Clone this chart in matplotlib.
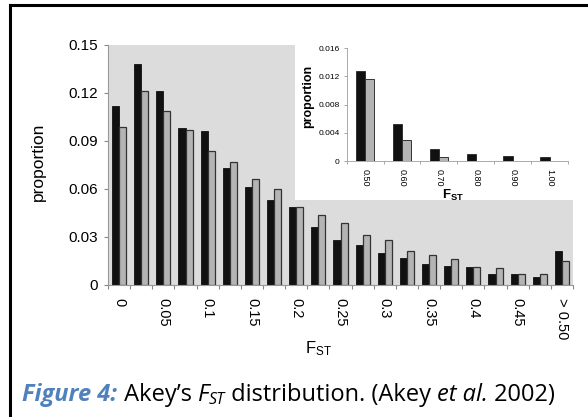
import matplotlib
matplotlib.use("Agg")
import matplotlib.pyplot as plt
from matplotlib.patches import Rectangle
from matplotlib.lines import Line2D
import numpy as np

plt.rcParams["font.family"] = ["Liberation Sans", "DejaVu Sans"]
plt.rcParams["mathtext.default"] = "regular"

# ---- data -------------------------------------------------------------
bin_labels = ["0", "", "0.05", "", "0.1", "", "0.15", "", "0.2", "", "0.25", "",
              "0.3", "", "0.35", "", "0.4", "", "0.45", "", "> 0.50"]
series_a = [0.112, 0.138, 0.121, 0.098, 0.096, 0.073, 0.061, 0.053, 0.049, 0.036,
            0.028, 0.025, 0.020, 0.017, 0.013, 0.012, 0.011, 0.007, 0.0068, 0.0048, 0.021]
series_b = [0.099, 0.121, 0.109, 0.097, 0.084, 0.077, 0.066, 0.060, 0.049, 0.044,
            0.039, 0.031, 0.028, 0.021, 0.019, 0.016, 0.0115, 0.0104, 0.0068, 0.0069, 0.015]
main_yticks = [0, 0.03, 0.06, 0.09, 0.12, 0.15]
main_ytick_labels = ["0", "0.03", "0.06", "0.09", "0.12", "0.15"]

tail_labels = ["0.50", "0.60", "0.70", "0.80", "0.90", "1.00"]
tail_a = [0.0128, 0.0052, 0.0017, 0.0010, 0.0007, 0.0006]
tail_b = [0.0117, 0.0030, 0.0005, 0.0, 0.0, 0.0]
tail_yticks = [0, 0.004, 0.008, 0.012, 0.016]
tail_ytick_labels = ["0", "0.004", "0.008", "0.012", "0.016"]

BLACK = "#111111"
GREY = "#b4b4b4"
EDGE = "#333333"
PANEL = "#dcdcdc"

W, H = 588, 417
fig = plt.figure(figsize=(W / 100, H / 100), dpi=100)
fig.patch.set_facecolor("white")


def frac(x0, y0, x1, y1):
    """Pixel box (top-left origin) -> figure fraction rect."""
    return [x0 / W, 1 - y1 / H, (x1 - x0) / W, (y1 - y0) / H]


# ---- main histogram ---------------------------------------------------
ax = fig.add_axes(frac(108, 45, 573, 285))
ax.set_facecolor(PANEL)
x = np.arange(len(series_a))
bw = 0.32
ax.bar(x - bw / 2, series_a, bw, color=BLACK, edgecolor=BLACK, linewidth=0.6)
ax.bar(x + bw / 2, series_b, bw, color=GREY, edgecolor=EDGE, linewidth=0.9)
ax.set_xlim(-0.5, len(x) - 0.5)
ax.set_ylim(0, 0.15)
ax.set_yticks(main_yticks)
ax.set_yticklabels(main_ytick_labels, fontsize=11)
ax.set_xticks(x)
ax.set_xticklabels(bin_labels, rotation=270, fontsize=10.5, va="top", ha="center")
ax.set_xticks(np.arange(-0.5, len(x)), minor=True)
ax.tick_params(axis="x", which="major", length=0, pad=9)
ax.tick_params(axis="x", which="minor", length=3, color="#888888", width=0.8)
ax.tick_params(axis="y", length=3, color="#888888", width=0.8, pad=4)
for s in ("top", "right"):
    ax.spines[s].set_visible(False)
for s in ("left", "bottom"):
    ax.spines[s].set_color("#999999")
    ax.spines[s].set_linewidth(0.8)
ax.set_ylabel("proportion", fontsize=12.5)
ax.yaxis.set_label_coords(-0.133, 0.514)
ax.set_xlabel("F$_{ST}$", fontsize=12)
ax.xaxis.set_label_coords(0.4527, -0.225)

# white backdrop behind the inset
fig.add_artist(Rectangle((295 / W, 1 - 200 / H), (573 - 295) / W, (200 - 32) / H,
                         transform=fig.transFigure, facecolor="white",
                         edgecolor="none", zorder=1))

# ---- inset: tail of the distribution -----------------------------------
ax2 = fig.add_axes(frac(346.7, 48.3, 568, 161))
ax2.set_zorder(3)
ax2.set_facecolor("white")
xi = np.arange(len(tail_a))
bw2 = 0.25
ax2.bar(xi - bw2 / 2, tail_a, bw2, color=BLACK, edgecolor=BLACK, linewidth=0.5)
ax2.bar(xi + bw2 / 2, tail_b, bw2, color=GREY, edgecolor=EDGE, linewidth=0.7)
ax2.set_xlim(-0.5, len(xi) - 0.5)
ax2.set_ylim(0, 0.016)
ax2.set_yticks(tail_yticks)
ax2.set_yticklabels(tail_ytick_labels, fontsize=6)
ax2.set_xticks(xi)
ax2.set_xticklabels(tail_labels, rotation=270, fontsize=6.5, va="top", ha="center")
ax2.set_xticks(np.arange(-0.5, len(xi)), minor=True)
ax2.tick_params(axis="x", which="major", length=0, pad=6)
ax2.tick_params(axis="x", which="minor", length=2, color="#999999", width=0.6)
ax2.tick_params(axis="y", length=2, color="#999999", width=0.6, pad=3)
for s in ("top", "right"):
    ax2.spines[s].set_visible(False)
for s in ("left", "bottom"):
    ax2.spines[s].set_color("#aaaaaa")
    ax2.spines[s].set_linewidth(0.7)
ax2.set_ylabel("proportion", fontsize=9, fontweight="bold")
ax2.yaxis.set_label_coords(-0.145, 0.577)
ax2.set_xlabel("F$_{ST}$", fontsize=9.5, fontweight="bold")
ax2.xaxis.set_label_coords(0.48, -0.24)

# ---- outer frame -------------------------------------------------------
fig.add_artist(Line2D([10 / W, 1.0], [1 - 5 / H, 1 - 5 / H], transform=fig.transFigure,
                      color="black", linewidth=2.2, zorder=5))
fig.add_artist(Line2D([10 / W, 10 / W], [1 - 5 / H, 0.0], transform=fig.transFigure,
                      color="black", linewidth=2.2, zorder=5))

# ---- caption (text runs placed one after another) ----------------------
renderer = fig.canvas.get_renderer()


def run_width(s, **kw):
    a = fig.text(0, 0, s + "|", **kw)
    b = fig.text(0, 0, "|", **kw)
    w = a.get_window_extent(renderer).width - b.get_window_extent(renderer).width
    a.remove()
    b.remove()
    return w


cap_font = ["Open Sans", "DejaVu Sans"]
base = dict(fontsize=17, family=cap_font, color="black")
sub = dict(fontsize=11.5, family=cap_font, color="black", style="italic")
runs = [
    ("Figure 4:", dict(base, color="#4f81bd", weight="bold", style="italic"), 0),
    (" Akey\u2019s ", base, 0),
    ("F", dict(base, style="italic"), 0),
    ("ST", sub, -3.5),
    (" distribution. (Akey ", base, 0),
    ("et al.", dict(base, style="italic"), 0),
    (" 2002)", base, 0),
]
xpix, ypix = 22.5, 401
for s, kw, dy in runs:
    fig.text(xpix / W, 1 - (ypix - dy) / H, s, va="baseline", ha="left", **kw)
    xpix += run_width(s, **kw)

fig.savefig("out.png", dpi=100)
